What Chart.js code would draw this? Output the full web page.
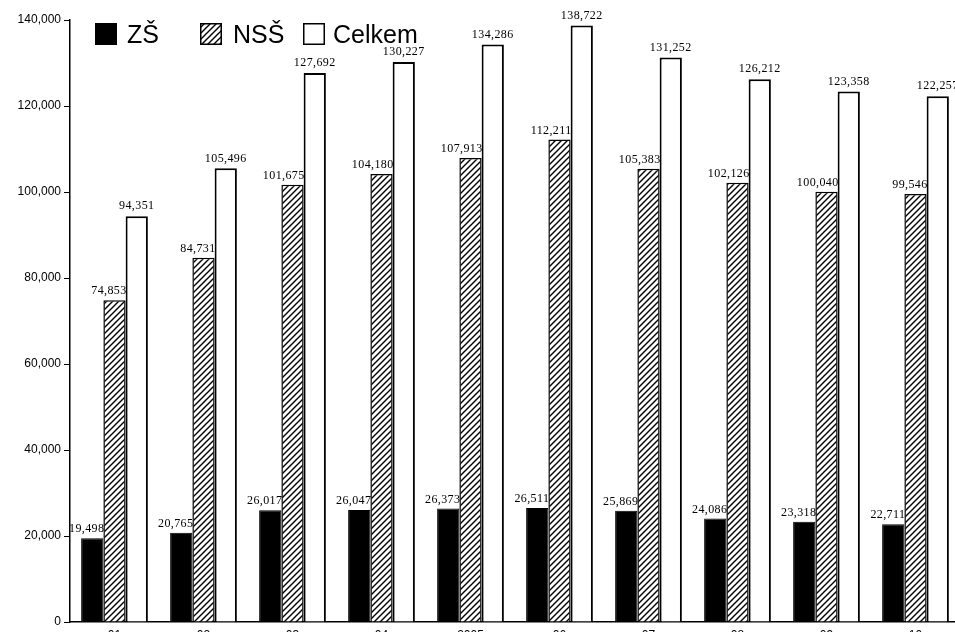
<!DOCTYPE html>
<html>
<head>
<meta charset="utf-8">
<script src="https://cdn.jsdelivr.net/npm/chart.js@4/dist/chart.umd.min.js"></script>
<style>
  html, body { margin: 0; padding: 0; background: #fff; }
  #wrap { width: 955px; height: 632px; overflow: hidden; position: relative; }
  canvas { display: block; }
</style>
</head>
<body>
<div id="wrap"><canvas id="c" width="960" height="650"></canvas></div>
<script>
// School years (bottom labels)
const categories = ['01', '02', '03', '04', '2005', '06', '07', '08', '09', '10'];
// Pupils by school type
const zs     = [19498, 20765, 26017, 26047, 26373, 26511, 25869, 24086, 23318, 22711];
const nss    = [74853, 84731, 101675, 104180, 107913, 112211, 105383, 102126, 100040, 99546];
const celkem = [94351, 105496, 127692, 130227, 134286, 138722, 131252, 126212, 123358, 122257];
const seriesNames = ['ZŠ', 'NSŠ', 'Celkem'];
const yTicks = [0, 20000, 40000, 60000, 80000, 100000, 120000, 140000];

// diagonal hatch fill
function hatch() {
  const p = document.createElement('canvas');
  p.width = 6; p.height = 6;
  const g = p.getContext('2d');
  g.fillStyle = '#fff';
  g.fillRect(0, 0, 6, 6);
  g.strokeStyle = '#000';
  g.lineWidth = 1.4;
  g.beginPath();
  g.moveTo(0, 6); g.lineTo(6, 0);
  g.moveTo(-3, 3); g.lineTo(3, -3);
  g.moveTo(3, 9); g.lineTo(9, 3);
  g.stroke();
  return g.createPattern(p, 'repeat');
}
const ctx = document.getElementById('c').getContext('2d');
const hatchFill = hatch();

const fmt = v => v.toLocaleString('en-US');

// numbers above bars: first two series end at the bar's right edge, totals centred
const valueLabels = {
  id: 'valueLabels',
  afterDatasetsDraw(chart) {
    const c = chart.ctx;
    c.save();
    c.font = '12px "Liberation Serif", serif';
    c.letterSpacing = '0.4px';
    c.fillStyle = '#000';
    c.textBaseline = 'bottom';
    chart.data.datasets.forEach((ds, i) => {
      chart.getDatasetMeta(i).data.forEach((bar, j) => {
        const txt = fmt(ds.data[j]);
        if (i < 2) {
          c.textAlign = 'right';
          c.fillText(txt, bar.x + bar.width / 2 + 1, bar.y - 3);
        } else {
          c.textAlign = 'center';
          c.fillText(txt, bar.x, bar.y - 4);
        }
      });
    });
    c.restore();
  }
};

// legend inside the plot, top-left
const insideLegend = {
  id: 'insideLegend',
  afterDraw(chart) {
    const c = chart.ctx;
    const pos = [[95, 127], [200, 233], [303, 333]];
    c.save();
    c.font = '25px "Liberation Sans", Arial, sans-serif';
    c.textBaseline = 'alphabetic';
    c.textAlign = 'left';
    chart.data.datasets.forEach((ds, i) => {
      const [bx, tx] = pos[i];
      c.fillStyle = ds.backgroundColor;
      c.fillRect(bx, 23, 22, 22);
      c.lineWidth = 1.5;
      c.strokeStyle = '#000';
      c.strokeRect(bx + 0.75, 23.75, 20.5, 20.5);
      c.fillStyle = '#000';
      c.fillText(ds.label, tx, 43);
    });
    c.restore();
  }
};

new Chart(ctx, {
  type: 'bar',
  data: {
    labels: categories,
    datasets: [
      { label: seriesNames[0], data: zs, backgroundColor: '#000', borderColor: '#000', borderWidth: 1 },
      { label: seriesNames[1], data: nss, backgroundColor: hatchFill, borderColor: '#000', borderWidth: 1.5 },
      { label: seriesNames[2], data: celkem, backgroundColor: '#fff', borderColor: '#000', borderWidth: 2 }
    ]
  },
  options: {
    responsive: false,
    animation: false,
    devicePixelRatio: 1,
    layout: { padding: { top: 20, left: 0, right: 0, bottom: 0 } },
    plugins: { legend: { display: false }, tooltip: { enabled: false } },
    datasets: { bar: { categoryPercentage: 0.75, barPercentage: 1.0 } },
    scales: {
      x: {
        grid: { display: false, drawTicks: false },
        border: { display: true, color: '#000', width: 1.5 },
        ticks: { color: '#000', padding: 6, font: { family: '"Liberation Sans", Arial, sans-serif', size: 12 } },
        afterFit: s => { s.height = 28; }
      },
      y: {
        min: 0, max: 140000,
        afterBuildTicks: s => { s.ticks = yTicks.map(v => ({ value: v })); },
        grid: { display: true, drawOnChartArea: false, tickLength: 6, color: '#000' },
        border: { display: true, color: '#000', width: 1.5 },
        ticks: {
          color: '#000', padding: 3,
          font: { family: '"Liberation Sans", Arial, sans-serif', size: 12 },
          callback: v => fmt(v)
        },
        afterFit: s => { s.width = 70; }
      }
    }
  },
  plugins: [valueLabels, insideLegend]
});
</script>
</body>
</html>
